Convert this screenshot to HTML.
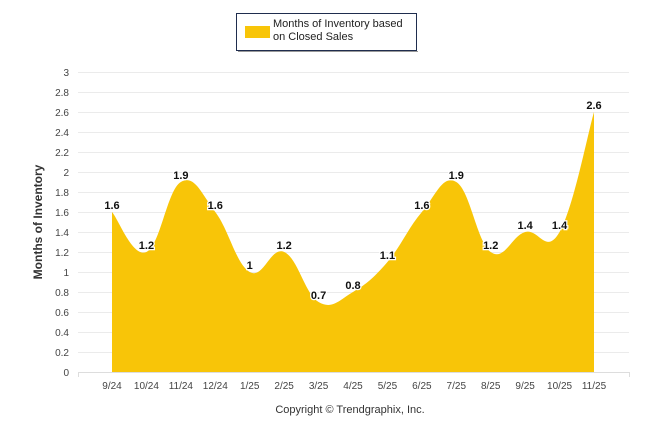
<!DOCTYPE html>
<html><head><meta charset="utf-8"><style>
body{margin:0;background:#fff;}
svg{display:block;font-family:"Liberation Sans",sans-serif;}
</style></head><body>
<svg id="c" width="646" height="434">
<g>
<rect x="236.5" y="13.5" width="180" height="37" fill="#fff" stroke="#1f2d4e" stroke-width="1"/>
<line x1="238" y1="51.5" x2="418" y2="51.5" stroke="#999" stroke-width="1"/>
<rect x="245" y="26" width="25" height="12" fill="#f8c508"/>
<text x="273" y="27" font-size="11" fill="#222">Months of Inventory based</text>
<text x="273" y="40" font-size="11" fill="#222">on Closed Sales</text>
</g>
<text transform="translate(42,222) rotate(-90)" text-anchor="middle" font-size="12" font-weight="bold" fill="#333">Months of Inventory</text>
<text x="350" y="413" text-anchor="middle" font-size="11" fill="#333">Copyright © Trendgraphix, Inc.</text>
<g id="grid"></g><g id="area"></g><g id="labels"></g>
</svg>
<script>
const categories=["9/24","10/24","11/24","12/24","1/25","2/25","3/25","4/25","5/25","6/25","7/25","8/25","9/25","10/25","11/25"];
const values=[1.6,1.2,1.9,1.6,1.0,1.2,0.7,0.8,1.1,1.6,1.9,1.2,1.4,1.4,2.6];
const valueLabels=["1.6","1.2","1.9","1.6","1","1.2","0.7","0.8","1.1","1.6","1.9","1.2","1.4","1.4","2.6"];
const yTicks=[0,0.2,0.4,0.6,0.8,1,1.2,1.4,1.6,1.8,2,2.2,2.4,2.6,2.8,3];
const NS="http://www.w3.org/2000/svg";
const x=i=>112+i*(482/(categories.length-1));
const y=v=>372-v*100;
function mk(t,a,p){const e=document.createElementNS(NS,t);for(const k in a)e.setAttribute(k,a[k]);p.appendChild(e);return e;}
const g=document.getElementById('grid');
yTicks.forEach(t=>{
 const l=mk('line',{x1:78,x2:629,y1:y(t)+0.5,y2:y(t)+0.5,stroke:t===0?'#ddd':'#ebebeb','stroke-width':1},g);
 
 
 const tx=mk('text',{x:69,y:y(t)+4,'text-anchor':'end','font-size':10,fill:'#444'},g);
 tx.textContent=String(t);
 
 
});
[78,629].forEach(px=>{const l=mk('line',{x1:px+0.5,x2:px+0.5,y1:372,y2:377,stroke:'#ddd'},g);
 
 });
categories.forEach((c,i)=>{
 const tx=mk('text',{x:x(i),y:389,'text-anchor':'middle','font-size':10,fill:'#444'},g);
 tx.textContent=c;
 
 
});
const pts=values.map((v,i)=>[x(i),y(v)]);
let d=`M${pts[0][0]},${y(0)} L${pts[0][0]},${pts[0][1]}`;
for(let i=0;i<pts.length-1;i++){
 const p0=pts[Math.max(0,i-1)],p1=pts[i],p2=pts[i+1],p3=pts[Math.min(pts.length-1,i+2)];
 const t=0.2;
 const c1=[p1[0]+(p2[0]-p0[0])*t,p1[1]+(p2[1]-p0[1])*t];
 const c2=[p2[0]-(p3[0]-p1[0])*t,p2[1]-(p3[1]-p1[1])*t];
 d+=` C${c1[0]},${c1[1]} ${c2[0]},${c2[1]} ${p2[0]},${p2[1]}`;
}
d+=` L${pts[pts.length-1][0]},${y(0)} Z`;
const a=mk('path',{d:d,fill:'#f8c508'},document.getElementById('area'));


const lg=document.getElementById('labels');
values.forEach((v,i)=>{
 const tx=mk('text',{x:x(i),y:y(v)-3,'text-anchor':'middle','font-size':11,'font-weight':'bold',fill:'#111',stroke:'#fff','stroke-width':2.5,'paint-order':'stroke'},lg);
 tx.textContent=valueLabels[i];
 
 
});
</script>
</body></html>
